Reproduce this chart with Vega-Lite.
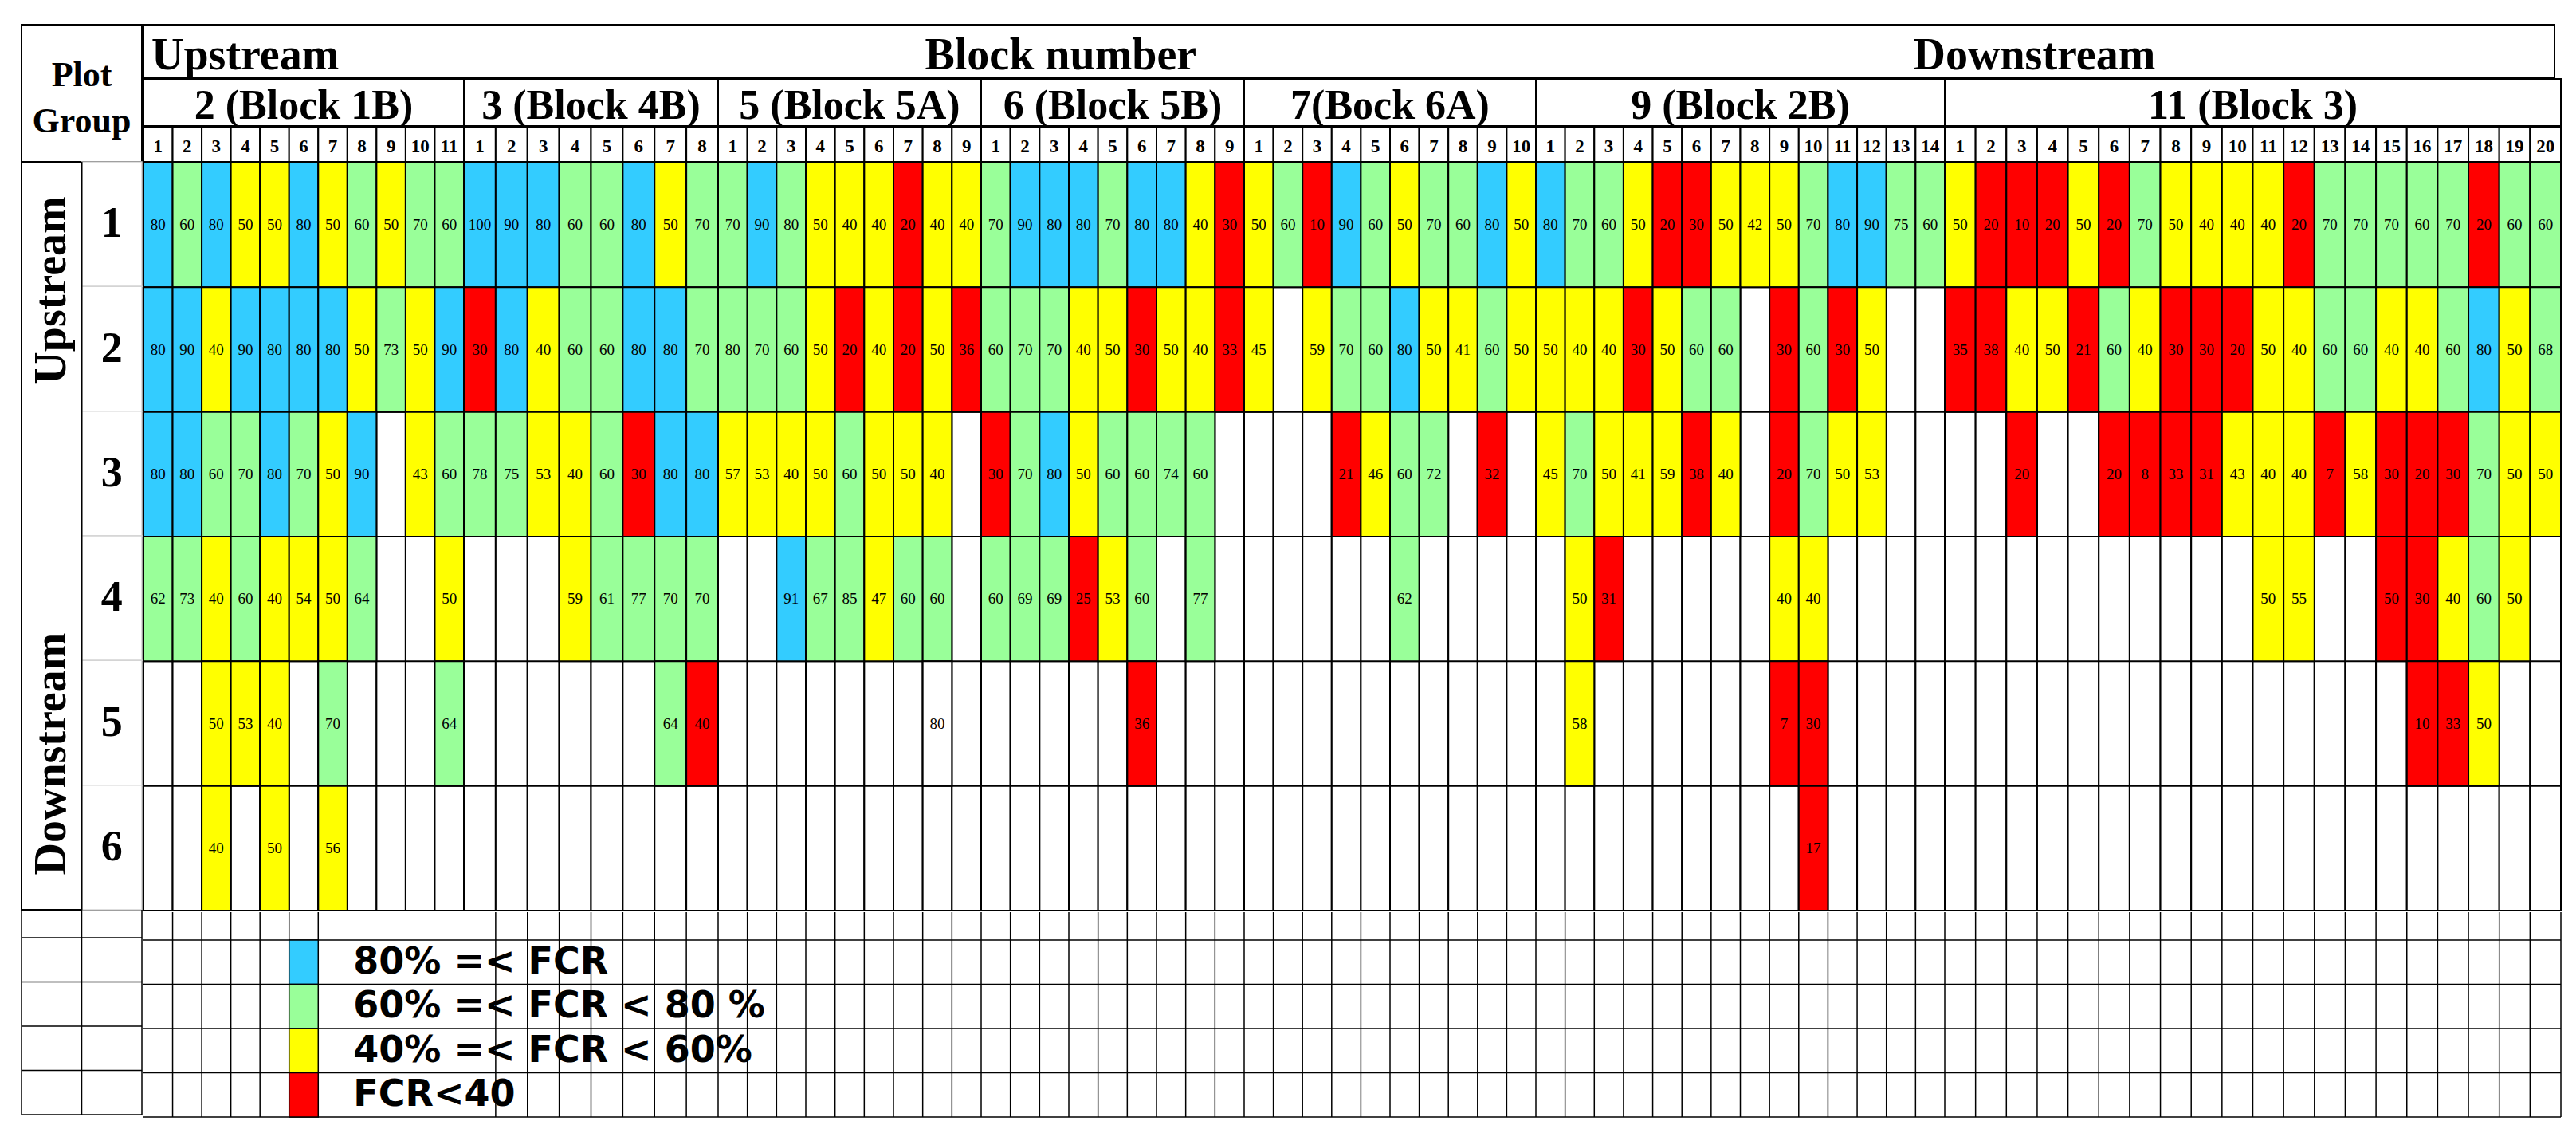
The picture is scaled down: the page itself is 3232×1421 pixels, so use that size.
{
"$schema": "https://vega.github.io/schema/vega-lite/v6.json",
"background": "white",
"padding": {"left": 26, "top": 30, "right": 0, "bottom": 24},
"config": {
  "view": {"stroke": null},
  "axis": {"disable": true},
  "legend": {"disable": true},
  "scale": {"bandPaddingInner": 0, "bandPaddingOuter": 0, "rectBandPaddingInner": 0},
  "concat": {"spacing": 0},
  "style": {
    "blk": {"stroke": "black", "strokeWidth": 2},
    "grid": {"stroke": "#d9d9d9", "strokeWidth": 1.5},
    "val": {"font": "Liberation Serif", "fontSize": 19, "fill": "#1a1a1a"},
    "h1": {"font": "Liberation Serif", "fontSize": 56, "fontWeight": "bold", "fill": "black", "baseline": "alphabetic", "dy": 23},
    "gtitle": {"font": "Liberation Serif", "fontSize": 52, "fontWeight": "bold", "fill": "black", "baseline": "alphabetic", "dy": 20},
    "cnum": {"font": "Liberation Serif", "fontSize": 23, "fontWeight": "bold", "fill": "black", "baseline": "alphabetic", "dy": 9},
    "rownum": {"font": "Liberation Serif", "fontSize": 54, "fontWeight": "bold", "fill": "black"},
    "stream": {"font": "Liberation Serif", "fontSize": 56, "fontWeight": "bold", "fill": "black", "angle": 270},
    "corner": {"font": "Liberation Serif", "fontSize": 44, "fontWeight": "bold", "fill": "black", "baseline": "alphabetic", "lineHeight": 58, "dy": -9},
    "leg": {"font": "DejaVu Sans", "fontSize": 46, "fontWeight": "bold", "fill": "black", "align": "left", "dx": 44}
  }
},
"datasets": {
  "rows": [{"r":1},{"r":2},{"r":3},{"r":4},{"r":5},{"r":6}],
  "legend": [{"k":"c80","label":"80% =< FCR"},{"k":"c60","label":"60% =< FCR < 80 %"},{"k":"c40","label":"40% =< FCR < 60%"},{"k":"c0","label":"FCR<40"}],
  "groups": [
    {"g":2,"name":"2 (Block 1B)","cols":[1,2,3,4,5,6,7,8,9,10,11]},
    {"g":3,"name":"3 (Block 4B)","cols":[1,2,3,4,5,6,7,8]},
    {"g":5,"name":"5 (Block 5A)","cols":[1,2,3,4,5,6,7,8,9]},
    {"g":6,"name":"6 (Block 5B)","cols":[1,2,3,4,5,6,7,8,9]},
    {"g":7,"name":"7(Bock 6A)","cols":[1,2,3,4,5,6,7,8,9,10]},
    {"g":9,"name":"9 (Block 2B)","cols":[1,2,3,4,5,6,7,8,9,10,11,12,13,14]},
    {"g":11,"name":"11 (Block 3)","cols":[1,2,3,4,5,6,7,8,9,10,11,12,13,14,15,16,17,18,19,20]}
  ],
  "cells": [
    {"g":2,"c":1,"r":1,"v":80,"k":"c80"},{"g":2,"c":2,"r":1,"v":60,"k":"c60"},{"g":2,"c":3,"r":1,"v":80,"k":"c80"},{"g":2,"c":4,"r":1,"v":50,"k":"c40"},{"g":2,"c":5,"r":1,"v":50,"k":"c40"},{"g":2,"c":6,"r":1,"v":80,"k":"c80"},{"g":2,"c":7,"r":1,"v":50,"k":"c40"},{"g":2,"c":8,"r":1,"v":60,"k":"c60"},{"g":2,"c":9,"r":1,"v":50,"k":"c40"},{"g":2,"c":10,"r":1,"v":70,"k":"c60"},{"g":2,"c":11,"r":1,"v":60,"k":"c60"},
    {"g":2,"c":1,"r":2,"v":80,"k":"c80"},{"g":2,"c":2,"r":2,"v":90,"k":"c80"},{"g":2,"c":3,"r":2,"v":40,"k":"c40"},{"g":2,"c":4,"r":2,"v":90,"k":"c80"},{"g":2,"c":5,"r":2,"v":80,"k":"c80"},{"g":2,"c":6,"r":2,"v":80,"k":"c80"},{"g":2,"c":7,"r":2,"v":80,"k":"c80"},{"g":2,"c":8,"r":2,"v":50,"k":"c40"},{"g":2,"c":9,"r":2,"v":73,"k":"c60"},{"g":2,"c":10,"r":2,"v":50,"k":"c40"},{"g":2,"c":11,"r":2,"v":90,"k":"c80"},
    {"g":2,"c":1,"r":3,"v":80,"k":"c80"},{"g":2,"c":2,"r":3,"v":80,"k":"c80"},{"g":2,"c":3,"r":3,"v":60,"k":"c60"},{"g":2,"c":4,"r":3,"v":70,"k":"c60"},{"g":2,"c":5,"r":3,"v":80,"k":"c80"},{"g":2,"c":6,"r":3,"v":70,"k":"c60"},{"g":2,"c":7,"r":3,"v":50,"k":"c40"},{"g":2,"c":8,"r":3,"v":90,"k":"c80"},{"g":2,"c":10,"r":3,"v":43,"k":"c40"},{"g":2,"c":11,"r":3,"v":60,"k":"c60"},
    {"g":2,"c":1,"r":4,"v":62,"k":"c60"},{"g":2,"c":2,"r":4,"v":73,"k":"c60"},{"g":2,"c":3,"r":4,"v":40,"k":"c40"},{"g":2,"c":4,"r":4,"v":60,"k":"c60"},{"g":2,"c":5,"r":4,"v":40,"k":"c40"},{"g":2,"c":6,"r":4,"v":54,"k":"c40"},{"g":2,"c":7,"r":4,"v":50,"k":"c40"},{"g":2,"c":8,"r":4,"v":64,"k":"c60"},{"g":2,"c":11,"r":4,"v":50,"k":"c40"},
    {"g":2,"c":3,"r":5,"v":50,"k":"c40"},{"g":2,"c":4,"r":5,"v":53,"k":"c40"},{"g":2,"c":5,"r":5,"v":40,"k":"c40"},{"g":2,"c":7,"r":5,"v":70,"k":"c60"},{"g":2,"c":11,"r":5,"v":64,"k":"c60"},
    {"g":2,"c":3,"r":6,"v":40,"k":"c40"},{"g":2,"c":5,"r":6,"v":50,"k":"c40"},{"g":2,"c":7,"r":6,"v":56,"k":"c40"},
    {"g":3,"c":1,"r":1,"v":100,"k":"c80"},{"g":3,"c":2,"r":1,"v":90,"k":"c80"},{"g":3,"c":3,"r":1,"v":80,"k":"c80"},{"g":3,"c":4,"r":1,"v":60,"k":"c60"},{"g":3,"c":5,"r":1,"v":60,"k":"c60"},{"g":3,"c":6,"r":1,"v":80,"k":"c80"},{"g":3,"c":7,"r":1,"v":50,"k":"c40"},{"g":3,"c":8,"r":1,"v":70,"k":"c60"},
    {"g":3,"c":1,"r":2,"v":30,"k":"c0"},{"g":3,"c":2,"r":2,"v":80,"k":"c80"},{"g":3,"c":3,"r":2,"v":40,"k":"c40"},{"g":3,"c":4,"r":2,"v":60,"k":"c60"},{"g":3,"c":5,"r":2,"v":60,"k":"c60"},{"g":3,"c":6,"r":2,"v":80,"k":"c80"},{"g":3,"c":7,"r":2,"v":80,"k":"c80"},{"g":3,"c":8,"r":2,"v":70,"k":"c60"},
    {"g":3,"c":1,"r":3,"v":78,"k":"c60"},{"g":3,"c":2,"r":3,"v":75,"k":"c60"},{"g":3,"c":3,"r":3,"v":53,"k":"c40"},{"g":3,"c":4,"r":3,"v":40,"k":"c40"},{"g":3,"c":5,"r":3,"v":60,"k":"c60"},{"g":3,"c":6,"r":3,"v":30,"k":"c0"},{"g":3,"c":7,"r":3,"v":80,"k":"c80"},{"g":3,"c":8,"r":3,"v":80,"k":"c80"},
    {"g":3,"c":4,"r":4,"v":59,"k":"c40"},{"g":3,"c":5,"r":4,"v":61,"k":"c60"},{"g":3,"c":6,"r":4,"v":77,"k":"c60"},{"g":3,"c":7,"r":4,"v":70,"k":"c60"},{"g":3,"c":8,"r":4,"v":70,"k":"c60"},
    {"g":3,"c":7,"r":5,"v":64,"k":"c60"},{"g":3,"c":8,"r":5,"v":40,"k":"c0"},
    {"g":5,"c":1,"r":1,"v":70,"k":"c60"},{"g":5,"c":2,"r":1,"v":90,"k":"c80"},{"g":5,"c":3,"r":1,"v":80,"k":"c60"},{"g":5,"c":4,"r":1,"v":50,"k":"c40"},{"g":5,"c":5,"r":1,"v":40,"k":"c40"},{"g":5,"c":6,"r":1,"v":40,"k":"c40"},{"g":5,"c":7,"r":1,"v":20,"k":"c0"},{"g":5,"c":8,"r":1,"v":40,"k":"c40"},{"g":5,"c":9,"r":1,"v":40,"k":"c40"},
    {"g":5,"c":1,"r":2,"v":80,"k":"c60"},{"g":5,"c":2,"r":2,"v":70,"k":"c60"},{"g":5,"c":3,"r":2,"v":60,"k":"c60"},{"g":5,"c":4,"r":2,"v":50,"k":"c40"},{"g":5,"c":5,"r":2,"v":20,"k":"c0"},{"g":5,"c":6,"r":2,"v":40,"k":"c40"},{"g":5,"c":7,"r":2,"v":20,"k":"c0"},{"g":5,"c":8,"r":2,"v":50,"k":"c40"},{"g":5,"c":9,"r":2,"v":36,"k":"c0"},
    {"g":5,"c":1,"r":3,"v":57,"k":"c40"},{"g":5,"c":2,"r":3,"v":53,"k":"c40"},{"g":5,"c":3,"r":3,"v":40,"k":"c40"},{"g":5,"c":4,"r":3,"v":50,"k":"c40"},{"g":5,"c":5,"r":3,"v":60,"k":"c60"},{"g":5,"c":6,"r":3,"v":50,"k":"c40"},{"g":5,"c":7,"r":3,"v":50,"k":"c40"},{"g":5,"c":8,"r":3,"v":40,"k":"c40"},
    {"g":5,"c":3,"r":4,"v":91,"k":"c80"},{"g":5,"c":4,"r":4,"v":67,"k":"c60"},{"g":5,"c":5,"r":4,"v":85,"k":"c60"},{"g":5,"c":6,"r":4,"v":47,"k":"c40"},{"g":5,"c":7,"r":4,"v":60,"k":"c60"},{"g":5,"c":8,"r":4,"v":60,"k":"c60"},
    {"g":5,"c":8,"r":5,"v":80,"k":"na"},
    {"g":6,"c":1,"r":1,"v":70,"k":"c60"},{"g":6,"c":2,"r":1,"v":90,"k":"c80"},{"g":6,"c":3,"r":1,"v":80,"k":"c80"},{"g":6,"c":4,"r":1,"v":80,"k":"c80"},{"g":6,"c":5,"r":1,"v":70,"k":"c60"},{"g":6,"c":6,"r":1,"v":80,"k":"c80"},{"g":6,"c":7,"r":1,"v":80,"k":"c80"},{"g":6,"c":8,"r":1,"v":40,"k":"c40"},{"g":6,"c":9,"r":1,"v":30,"k":"c0"},
    {"g":6,"c":1,"r":2,"v":60,"k":"c60"},{"g":6,"c":2,"r":2,"v":70,"k":"c60"},{"g":6,"c":3,"r":2,"v":70,"k":"c60"},{"g":6,"c":4,"r":2,"v":40,"k":"c40"},{"g":6,"c":5,"r":2,"v":50,"k":"c40"},{"g":6,"c":6,"r":2,"v":30,"k":"c0"},{"g":6,"c":7,"r":2,"v":50,"k":"c40"},{"g":6,"c":8,"r":2,"v":40,"k":"c40"},{"g":6,"c":9,"r":2,"v":33,"k":"c0"},
    {"g":6,"c":1,"r":3,"v":30,"k":"c0"},{"g":6,"c":2,"r":3,"v":70,"k":"c60"},{"g":6,"c":3,"r":3,"v":80,"k":"c80"},{"g":6,"c":4,"r":3,"v":50,"k":"c40"},{"g":6,"c":5,"r":3,"v":60,"k":"c60"},{"g":6,"c":6,"r":3,"v":60,"k":"c60"},{"g":6,"c":7,"r":3,"v":74,"k":"c60"},{"g":6,"c":8,"r":3,"v":60,"k":"c60"},
    {"g":6,"c":1,"r":4,"v":60,"k":"c60"},{"g":6,"c":2,"r":4,"v":69,"k":"c60"},{"g":6,"c":3,"r":4,"v":69,"k":"c60"},{"g":6,"c":4,"r":4,"v":25,"k":"c0"},{"g":6,"c":5,"r":4,"v":53,"k":"c40"},{"g":6,"c":6,"r":4,"v":60,"k":"c60"},{"g":6,"c":8,"r":4,"v":77,"k":"c60"},
    {"g":6,"c":6,"r":5,"v":36,"k":"c0"},
    {"g":7,"c":1,"r":1,"v":50,"k":"c40"},{"g":7,"c":2,"r":1,"v":60,"k":"c60"},{"g":7,"c":3,"r":1,"v":10,"k":"c0"},{"g":7,"c":4,"r":1,"v":90,"k":"c80"},{"g":7,"c":5,"r":1,"v":60,"k":"c60"},{"g":7,"c":6,"r":1,"v":50,"k":"c40"},{"g":7,"c":7,"r":1,"v":70,"k":"c60"},{"g":7,"c":8,"r":1,"v":60,"k":"c60"},{"g":7,"c":9,"r":1,"v":80,"k":"c80"},{"g":7,"c":10,"r":1,"v":50,"k":"c40"},
    {"g":7,"c":1,"r":2,"v":45,"k":"c40"},{"g":7,"c":3,"r":2,"v":59,"k":"c40"},{"g":7,"c":4,"r":2,"v":70,"k":"c60"},{"g":7,"c":5,"r":2,"v":60,"k":"c60"},{"g":7,"c":6,"r":2,"v":80,"k":"c80"},{"g":7,"c":7,"r":2,"v":50,"k":"c40"},{"g":7,"c":8,"r":2,"v":41,"k":"c40"},{"g":7,"c":9,"r":2,"v":60,"k":"c60"},{"g":7,"c":10,"r":2,"v":50,"k":"c40"},
    {"g":7,"c":4,"r":3,"v":21,"k":"c0"},{"g":7,"c":5,"r":3,"v":46,"k":"c40"},{"g":7,"c":6,"r":3,"v":60,"k":"c60"},{"g":7,"c":7,"r":3,"v":72,"k":"c60"},{"g":7,"c":9,"r":3,"v":32,"k":"c0"},
    {"g":7,"c":6,"r":4,"v":62,"k":"c60"},
    {"g":9,"c":1,"r":1,"v":80,"k":"c80"},{"g":9,"c":2,"r":1,"v":70,"k":"c60"},{"g":9,"c":3,"r":1,"v":60,"k":"c60"},{"g":9,"c":4,"r":1,"v":50,"k":"c40"},{"g":9,"c":5,"r":1,"v":20,"k":"c0"},{"g":9,"c":6,"r":1,"v":30,"k":"c0"},{"g":9,"c":7,"r":1,"v":50,"k":"c40"},{"g":9,"c":8,"r":1,"v":42,"k":"c40"},{"g":9,"c":9,"r":1,"v":50,"k":"c40"},{"g":9,"c":10,"r":1,"v":70,"k":"c60"},{"g":9,"c":11,"r":1,"v":80,"k":"c80"},{"g":9,"c":12,"r":1,"v":90,"k":"c80"},{"g":9,"c":13,"r":1,"v":75,"k":"c60"},{"g":9,"c":14,"r":1,"v":60,"k":"c60"},
    {"g":9,"c":1,"r":2,"v":50,"k":"c40"},{"g":9,"c":2,"r":2,"v":40,"k":"c40"},{"g":9,"c":3,"r":2,"v":40,"k":"c40"},{"g":9,"c":4,"r":2,"v":30,"k":"c0"},{"g":9,"c":5,"r":2,"v":50,"k":"c40"},{"g":9,"c":6,"r":2,"v":60,"k":"c60"},{"g":9,"c":7,"r":2,"v":60,"k":"c60"},{"g":9,"c":9,"r":2,"v":30,"k":"c0"},{"g":9,"c":10,"r":2,"v":60,"k":"c60"},{"g":9,"c":11,"r":2,"v":30,"k":"c0"},{"g":9,"c":12,"r":2,"v":50,"k":"c40"},
    {"g":9,"c":1,"r":3,"v":45,"k":"c40"},{"g":9,"c":2,"r":3,"v":70,"k":"c60"},{"g":9,"c":3,"r":3,"v":50,"k":"c40"},{"g":9,"c":4,"r":3,"v":41,"k":"c40"},{"g":9,"c":5,"r":3,"v":59,"k":"c40"},{"g":9,"c":6,"r":3,"v":38,"k":"c0"},{"g":9,"c":7,"r":3,"v":40,"k":"c40"},{"g":9,"c":9,"r":3,"v":20,"k":"c0"},{"g":9,"c":10,"r":3,"v":70,"k":"c60"},{"g":9,"c":11,"r":3,"v":50,"k":"c40"},{"g":9,"c":12,"r":3,"v":53,"k":"c40"},
    {"g":9,"c":2,"r":4,"v":50,"k":"c40"},{"g":9,"c":3,"r":4,"v":31,"k":"c0"},{"g":9,"c":9,"r":4,"v":40,"k":"c40"},{"g":9,"c":10,"r":4,"v":40,"k":"c40"},
    {"g":9,"c":2,"r":5,"v":58,"k":"c40"},{"g":9,"c":9,"r":5,"v":7,"k":"c0"},{"g":9,"c":10,"r":5,"v":30,"k":"c0"},
    {"g":9,"c":10,"r":6,"v":17,"k":"c0"},
    {"g":11,"c":1,"r":1,"v":50,"k":"c40"},{"g":11,"c":2,"r":1,"v":20,"k":"c0"},{"g":11,"c":3,"r":1,"v":10,"k":"c0"},{"g":11,"c":4,"r":1,"v":20,"k":"c0"},{"g":11,"c":5,"r":1,"v":50,"k":"c40"},{"g":11,"c":6,"r":1,"v":20,"k":"c0"},{"g":11,"c":7,"r":1,"v":70,"k":"c60"},{"g":11,"c":8,"r":1,"v":50,"k":"c40"},{"g":11,"c":9,"r":1,"v":40,"k":"c40"},{"g":11,"c":10,"r":1,"v":40,"k":"c40"},{"g":11,"c":11,"r":1,"v":40,"k":"c40"},{"g":11,"c":12,"r":1,"v":20,"k":"c0"},{"g":11,"c":13,"r":1,"v":70,"k":"c60"},{"g":11,"c":14,"r":1,"v":70,"k":"c60"},{"g":11,"c":15,"r":1,"v":70,"k":"c60"},{"g":11,"c":16,"r":1,"v":60,"k":"c60"},{"g":11,"c":17,"r":1,"v":70,"k":"c60"},{"g":11,"c":18,"r":1,"v":20,"k":"c0"},{"g":11,"c":19,"r":1,"v":60,"k":"c60"},{"g":11,"c":20,"r":1,"v":60,"k":"c60"},
    {"g":11,"c":1,"r":2,"v":35,"k":"c0"},{"g":11,"c":2,"r":2,"v":38,"k":"c0"},{"g":11,"c":3,"r":2,"v":40,"k":"c40"},{"g":11,"c":4,"r":2,"v":50,"k":"c40"},{"g":11,"c":5,"r":2,"v":21,"k":"c0"},{"g":11,"c":6,"r":2,"v":60,"k":"c60"},{"g":11,"c":7,"r":2,"v":40,"k":"c40"},{"g":11,"c":8,"r":2,"v":30,"k":"c0"},{"g":11,"c":9,"r":2,"v":30,"k":"c0"},{"g":11,"c":10,"r":2,"v":20,"k":"c0"},{"g":11,"c":11,"r":2,"v":50,"k":"c40"},{"g":11,"c":12,"r":2,"v":40,"k":"c40"},{"g":11,"c":13,"r":2,"v":60,"k":"c60"},{"g":11,"c":14,"r":2,"v":60,"k":"c60"},{"g":11,"c":15,"r":2,"v":40,"k":"c40"},{"g":11,"c":16,"r":2,"v":40,"k":"c40"},{"g":11,"c":17,"r":2,"v":60,"k":"c60"},{"g":11,"c":18,"r":2,"v":80,"k":"c80"},{"g":11,"c":19,"r":2,"v":50,"k":"c40"},{"g":11,"c":20,"r":2,"v":68,"k":"c60"},
    {"g":11,"c":3,"r":3,"v":20,"k":"c0"},{"g":11,"c":6,"r":3,"v":20,"k":"c0"},{"g":11,"c":7,"r":3,"v":8,"k":"c0"},{"g":11,"c":8,"r":3,"v":33,"k":"c0"},{"g":11,"c":9,"r":3,"v":31,"k":"c0"},{"g":11,"c":10,"r":3,"v":43,"k":"c40"},{"g":11,"c":11,"r":3,"v":40,"k":"c40"},{"g":11,"c":12,"r":3,"v":40,"k":"c40"},{"g":11,"c":13,"r":3,"v":7,"k":"c0"},{"g":11,"c":14,"r":3,"v":58,"k":"c40"},{"g":11,"c":15,"r":3,"v":30,"k":"c0"},{"g":11,"c":16,"r":3,"v":20,"k":"c0"},{"g":11,"c":17,"r":3,"v":30,"k":"c0"},{"g":11,"c":18,"r":3,"v":70,"k":"c60"},{"g":11,"c":19,"r":3,"v":50,"k":"c40"},{"g":11,"c":20,"r":3,"v":50,"k":"c40"},
    {"g":11,"c":11,"r":4,"v":50,"k":"c40"},{"g":11,"c":12,"r":4,"v":55,"k":"c40"},{"g":11,"c":15,"r":4,"v":50,"k":"c0"},{"g":11,"c":16,"r":4,"v":30,"k":"c0"},{"g":11,"c":17,"r":4,"v":40,"k":"c40"},{"g":11,"c":18,"r":4,"v":60,"k":"c60"},{"g":11,"c":19,"r":4,"v":50,"k":"c40"},
    {"g":11,"c":16,"r":5,"v":10,"k":"c0"},{"g":11,"c":17,"r":5,"v":33,"k":"c0"},{"g":11,"c":18,"r":5,"v":50,"k":"c40"}
  ]
},
"spacing": -2,
"hconcat": [
  {"spacing": 0, "bounds": "flush", "vconcat": [
    {"width": 151, "height": 172, "view": {"stroke": "black", "strokeWidth": 2}, "data": {"values": [{}]}, "mark": {"type": "text", "style": "corner", "text": ["Plot", "Group"]}, "encoding": {}},
    {"width": 151, "height": 938, "view": {"stroke": "black", "strokeWidth": 2}, "layer": [
      {"data": {"name": "rows"}, "mark": {"type": "rect", "fill": "white", "stroke": "#d4d4d4", "strokeWidth": 1.5}, "encoding": {"x": {"datum": "B", "type": "nominal", "scale": {"type": "band", "domain": ["A", "B"]}}, "y": {"field": "r", "type": "ordinal", "scale": {"type": "band", "domain": [1,2,3,4,5,6]}}}},
      {"data": {"values": [{}]}, "mark": {"type": "rule", "style": "blk"}, "encoding": {"x": {"datum": "B", "type": "nominal", "bandPosition": 0}}},
      {"data": {"name": "rows"}, "mark": {"type": "text", "style": "rownum"}, "encoding": {"x": {"datum": "B", "type": "nominal"}, "y": {"field": "r", "type": "ordinal"}, "text": {"field": "r"}}},
      {"data": {"values": [{}]}, "mark": {"type": "text", "style": "stream", "text": "Upstream"}, "encoding": {"x": {"datum": "A", "type": "nominal"}, "y": {"datum": 2, "type": "ordinal", "bandPosition": 0.03}}},
      {"data": {"values": [{}]}, "mark": {"type": "text", "style": "stream", "text": "Downstream"}, "encoding": {"x": {"datum": "A", "type": "nominal"}, "y": {"datum": 5, "type": "ordinal", "bandPosition": 0.75}}}
    ]},
    {"width": 151, "height": 257, "layer": [
      {"data": {"values": [{"col": "A"}, {"col": "B"}]}, "mark": {"type": "rule", "style": "grid"}, "encoding": {"x": {"field": "col", "type": "nominal", "bandPosition": 1, "scale": {"type": "band", "domain": ["A", "B"]}}}},
      {"data": {"values": [{}]}, "mark": {"type": "rule", "style": "grid"}, "encoding": {"x": {"datum": "A", "type": "nominal", "bandPosition": 0}}},
      {"data": {"name": "legend"}, "mark": {"type": "rule", "style": "grid"}, "encoding": {"y": {"field": "k", "type": "ordinal", "bandPosition": 0, "scale": {"type": "band", "domain": ["c80","c60","c40","c0"], "paddingInner": 0, "paddingOuter": 0.3153, "align": 1}}}},
      {"data": {"name": "legend"}, "transform": [{"filter": "datum.k == 'c0'"}], "mark": {"type": "rule", "style": "grid"}, "encoding": {"y": {"field": "k", "type": "ordinal", "bandPosition": 1}}}
    ]}
  ]},
  {"spacing": -2, "vconcat": [
    {"width": 3025, "height": 66, "view": {"stroke": "black", "strokeWidth": 2}, "data": {"values": [{}]}, "layer": [
      {"mark": {"type": "text", "style": "h1", "text": "Upstream", "align": "left", "dx": 10}, "encoding": {"x": {"datum": 2, "type": "ordinal", "bandPosition": 0, "scale": {"type": "band", "domain": [2,3,5,6,7,9,11]}}}},
      {"mark": {"type": "text", "style": "h1", "text": "Block number"}, "encoding": {"x": {"datum": 5, "type": "ordinal", "bandPosition": 0.663}}},
      {"mark": {"type": "text", "style": "h1", "text": "Downstream"}, "encoding": {"x": {"datum": 9, "type": "ordinal", "bandPosition": 0.49}}}
    ]},
    {"spacing": 0, "bounds": "flush", "hconcat": [
      {"width": 402, "height": 59, "view": {"stroke": "black", "strokeWidth": 2}, "data": {"name": "groups"}, "transform": [{"filter": "datum.g == 2"}], "mark": {"type": "text", "style": "gtitle"}, "encoding": {"text": {"field": "name"}}},
      {"width": 319, "height": 59, "view": {"stroke": "black", "strokeWidth": 2}, "data": {"name": "groups"}, "transform": [{"filter": "datum.g == 3"}], "mark": {"type": "text", "style": "gtitle"}, "encoding": {"text": {"field": "name"}}},
      {"width": 330, "height": 59, "view": {"stroke": "black", "strokeWidth": 2}, "data": {"name": "groups"}, "transform": [{"filter": "datum.g == 5"}], "mark": {"type": "text", "style": "gtitle"}, "encoding": {"text": {"field": "name"}}},
      {"width": 330, "height": 59, "view": {"stroke": "black", "strokeWidth": 2}, "data": {"name": "groups"}, "transform": [{"filter": "datum.g == 6"}], "mark": {"type": "text", "style": "gtitle"}, "encoding": {"text": {"field": "name"}}},
      {"width": 366, "height": 59, "view": {"stroke": "black", "strokeWidth": 2}, "data": {"name": "groups"}, "transform": [{"filter": "datum.g == 7"}], "mark": {"type": "text", "style": "gtitle"}, "encoding": {"text": {"field": "name"}}},
      {"width": 513, "height": 59, "view": {"stroke": "black", "strokeWidth": 2}, "data": {"name": "groups"}, "transform": [{"filter": "datum.g == 9"}], "mark": {"type": "text", "style": "gtitle"}, "encoding": {"text": {"field": "name"}}},
      {"width": 773, "height": 59, "view": {"stroke": "black", "strokeWidth": 2}, "data": {"name": "groups"}, "transform": [{"filter": "datum.g == 11"}], "mark": {"type": "text", "style": "gtitle"}, "encoding": {"text": {"field": "name"}}}
    ]},
    {"spacing": 0, "bounds": "flush", "hconcat": [
      {"width": 402, "height": 43, "data": {"name": "groups"}, "transform": [{"filter": "datum.g == 2"}, {"flatten": ["cols"], "as": ["c"]}], "encoding": {"x": {"field": "c", "type": "ordinal", "scale": {"type": "band"}}}, "layer": [{"mark": {"type": "rect", "fill": "white", "stroke": "black", "strokeWidth": 2}}, {"mark": {"type": "text", "style": "cnum"}, "encoding": {"text": {"field": "c"}}}]},
      {"width": 319, "height": 43, "data": {"name": "groups"}, "transform": [{"filter": "datum.g == 3"}, {"flatten": ["cols"], "as": ["c"]}], "encoding": {"x": {"field": "c", "type": "ordinal", "scale": {"type": "band"}}}, "layer": [{"mark": {"type": "rect", "fill": "white", "stroke": "black", "strokeWidth": 2}}, {"mark": {"type": "text", "style": "cnum"}, "encoding": {"text": {"field": "c"}}}]},
      {"width": 330, "height": 43, "data": {"name": "groups"}, "transform": [{"filter": "datum.g == 5"}, {"flatten": ["cols"], "as": ["c"]}], "encoding": {"x": {"field": "c", "type": "ordinal", "scale": {"type": "band"}}}, "layer": [{"mark": {"type": "rect", "fill": "white", "stroke": "black", "strokeWidth": 2}}, {"mark": {"type": "text", "style": "cnum"}, "encoding": {"text": {"field": "c"}}}]},
      {"width": 330, "height": 43, "data": {"name": "groups"}, "transform": [{"filter": "datum.g == 6"}, {"flatten": ["cols"], "as": ["c"]}], "encoding": {"x": {"field": "c", "type": "ordinal", "scale": {"type": "band"}}}, "layer": [{"mark": {"type": "rect", "fill": "white", "stroke": "black", "strokeWidth": 2}}, {"mark": {"type": "text", "style": "cnum"}, "encoding": {"text": {"field": "c"}}}]},
      {"width": 366, "height": 43, "data": {"name": "groups"}, "transform": [{"filter": "datum.g == 7"}, {"flatten": ["cols"], "as": ["c"]}], "encoding": {"x": {"field": "c", "type": "ordinal", "scale": {"type": "band"}}}, "layer": [{"mark": {"type": "rect", "fill": "white", "stroke": "black", "strokeWidth": 2}}, {"mark": {"type": "text", "style": "cnum"}, "encoding": {"text": {"field": "c"}}}]},
      {"width": 513, "height": 43, "data": {"name": "groups"}, "transform": [{"filter": "datum.g == 9"}, {"flatten": ["cols"], "as": ["c"]}], "encoding": {"x": {"field": "c", "type": "ordinal", "scale": {"type": "band"}}}, "layer": [{"mark": {"type": "rect", "fill": "white", "stroke": "black", "strokeWidth": 2}}, {"mark": {"type": "text", "style": "cnum"}, "encoding": {"text": {"field": "c"}}}]},
      {"width": 773, "height": 43, "data": {"name": "groups"}, "transform": [{"filter": "datum.g == 11"}, {"flatten": ["cols"], "as": ["c"]}], "encoding": {"x": {"field": "c", "type": "ordinal", "scale": {"type": "band"}}}, "layer": [{"mark": {"type": "rect", "fill": "white", "stroke": "black", "strokeWidth": 2}}, {"mark": {"type": "text", "style": "cnum"}, "encoding": {"text": {"field": "c"}}}]}
    ]},
    {"spacing": 0, "bounds": "flush", "hconcat": [
      {"width": 402, "height": 938, "layer": [
        {"data": {"name": "groups"}, "transform": [{"filter": "datum.g == 2"}, {"flatten": ["cols"], "as": ["c"]}], "mark": {"type": "rect", "fill": "white", "stroke": "black", "strokeWidth": 2}, "encoding": {"x": {"field": "c", "type": "ordinal", "scale": {"type": "band"}}}},
        {"data": {"name": "rows"}, "mark": {"type": "rule", "style": "blk"}, "encoding": {"y": {"field": "r", "type": "ordinal", "bandPosition": 0, "scale": {"type": "band", "domain": [1,2,3,4,5,6]}}}},
        {"data": {"name": "cells"}, "transform": [{"filter": "datum.g == 2"}], "mark": {"type": "rect", "stroke": "black", "strokeWidth": 2}, "encoding": {"x": {"field": "c", "type": "ordinal"}, "y": {"field": "r", "type": "ordinal"}, "fill": {"field": "k", "type": "nominal", "scale": {"domain": ["c80","c60","c40","c0","na"], "range": ["#33CCFF","#99FF99","#FFFF00","#FF0000","#FFFFFF"]}}}},
        {"data": {"name": "cells"}, "transform": [{"filter": "datum.g == 2"}], "mark": {"type": "text", "style": "val"}, "encoding": {"x": {"field": "c", "type": "ordinal"}, "y": {"field": "r", "type": "ordinal"}, "text": {"field": "v"}}}
      ]},
      {"width": 319, "height": 938, "layer": [
        {"data": {"name": "groups"}, "transform": [{"filter": "datum.g == 3"}, {"flatten": ["cols"], "as": ["c"]}], "mark": {"type": "rect", "fill": "white", "stroke": "black", "strokeWidth": 2}, "encoding": {"x": {"field": "c", "type": "ordinal", "scale": {"type": "band"}}}},
        {"data": {"name": "rows"}, "mark": {"type": "rule", "style": "blk"}, "encoding": {"y": {"field": "r", "type": "ordinal", "bandPosition": 0, "scale": {"type": "band", "domain": [1,2,3,4,5,6]}}}},
        {"data": {"name": "cells"}, "transform": [{"filter": "datum.g == 3"}], "mark": {"type": "rect", "stroke": "black", "strokeWidth": 2}, "encoding": {"x": {"field": "c", "type": "ordinal"}, "y": {"field": "r", "type": "ordinal"}, "fill": {"field": "k", "type": "nominal", "scale": {"domain": ["c80","c60","c40","c0","na"], "range": ["#33CCFF","#99FF99","#FFFF00","#FF0000","#FFFFFF"]}}}},
        {"data": {"name": "cells"}, "transform": [{"filter": "datum.g == 3"}], "mark": {"type": "text", "style": "val"}, "encoding": {"x": {"field": "c", "type": "ordinal"}, "y": {"field": "r", "type": "ordinal"}, "text": {"field": "v"}}}
      ]},
      {"width": 330, "height": 938, "layer": [
        {"data": {"name": "groups"}, "transform": [{"filter": "datum.g == 5"}, {"flatten": ["cols"], "as": ["c"]}], "mark": {"type": "rect", "fill": "white", "stroke": "black", "strokeWidth": 2}, "encoding": {"x": {"field": "c", "type": "ordinal", "scale": {"type": "band"}}}},
        {"data": {"name": "rows"}, "mark": {"type": "rule", "style": "blk"}, "encoding": {"y": {"field": "r", "type": "ordinal", "bandPosition": 0, "scale": {"type": "band", "domain": [1,2,3,4,5,6]}}}},
        {"data": {"name": "cells"}, "transform": [{"filter": "datum.g == 5"}], "mark": {"type": "rect", "stroke": "black", "strokeWidth": 2}, "encoding": {"x": {"field": "c", "type": "ordinal"}, "y": {"field": "r", "type": "ordinal"}, "fill": {"field": "k", "type": "nominal", "scale": {"domain": ["c80","c60","c40","c0","na"], "range": ["#33CCFF","#99FF99","#FFFF00","#FF0000","#FFFFFF"]}}}},
        {"data": {"name": "cells"}, "transform": [{"filter": "datum.g == 5"}], "mark": {"type": "text", "style": "val"}, "encoding": {"x": {"field": "c", "type": "ordinal"}, "y": {"field": "r", "type": "ordinal"}, "text": {"field": "v"}}}
      ]},
      {"width": 330, "height": 938, "layer": [
        {"data": {"name": "groups"}, "transform": [{"filter": "datum.g == 6"}, {"flatten": ["cols"], "as": ["c"]}], "mark": {"type": "rect", "fill": "white", "stroke": "black", "strokeWidth": 2}, "encoding": {"x": {"field": "c", "type": "ordinal", "scale": {"type": "band"}}}},
        {"data": {"name": "rows"}, "mark": {"type": "rule", "style": "blk"}, "encoding": {"y": {"field": "r", "type": "ordinal", "bandPosition": 0, "scale": {"type": "band", "domain": [1,2,3,4,5,6]}}}},
        {"data": {"name": "cells"}, "transform": [{"filter": "datum.g == 6"}], "mark": {"type": "rect", "stroke": "black", "strokeWidth": 2}, "encoding": {"x": {"field": "c", "type": "ordinal"}, "y": {"field": "r", "type": "ordinal"}, "fill": {"field": "k", "type": "nominal", "scale": {"domain": ["c80","c60","c40","c0","na"], "range": ["#33CCFF","#99FF99","#FFFF00","#FF0000","#FFFFFF"]}}}},
        {"data": {"name": "cells"}, "transform": [{"filter": "datum.g == 6"}], "mark": {"type": "text", "style": "val"}, "encoding": {"x": {"field": "c", "type": "ordinal"}, "y": {"field": "r", "type": "ordinal"}, "text": {"field": "v"}}}
      ]},
      {"width": 366, "height": 938, "layer": [
        {"data": {"name": "groups"}, "transform": [{"filter": "datum.g == 7"}, {"flatten": ["cols"], "as": ["c"]}], "mark": {"type": "rect", "fill": "white", "stroke": "black", "strokeWidth": 2}, "encoding": {"x": {"field": "c", "type": "ordinal", "scale": {"type": "band"}}}},
        {"data": {"name": "rows"}, "mark": {"type": "rule", "style": "blk"}, "encoding": {"y": {"field": "r", "type": "ordinal", "bandPosition": 0, "scale": {"type": "band", "domain": [1,2,3,4,5,6]}}}},
        {"data": {"name": "cells"}, "transform": [{"filter": "datum.g == 7"}], "mark": {"type": "rect", "stroke": "black", "strokeWidth": 2}, "encoding": {"x": {"field": "c", "type": "ordinal"}, "y": {"field": "r", "type": "ordinal"}, "fill": {"field": "k", "type": "nominal", "scale": {"domain": ["c80","c60","c40","c0","na"], "range": ["#33CCFF","#99FF99","#FFFF00","#FF0000","#FFFFFF"]}}}},
        {"data": {"name": "cells"}, "transform": [{"filter": "datum.g == 7"}], "mark": {"type": "text", "style": "val"}, "encoding": {"x": {"field": "c", "type": "ordinal"}, "y": {"field": "r", "type": "ordinal"}, "text": {"field": "v"}}}
      ]},
      {"width": 513, "height": 938, "layer": [
        {"data": {"name": "groups"}, "transform": [{"filter": "datum.g == 9"}, {"flatten": ["cols"], "as": ["c"]}], "mark": {"type": "rect", "fill": "white", "stroke": "black", "strokeWidth": 2}, "encoding": {"x": {"field": "c", "type": "ordinal", "scale": {"type": "band"}}}},
        {"data": {"name": "rows"}, "mark": {"type": "rule", "style": "blk"}, "encoding": {"y": {"field": "r", "type": "ordinal", "bandPosition": 0, "scale": {"type": "band", "domain": [1,2,3,4,5,6]}}}},
        {"data": {"name": "cells"}, "transform": [{"filter": "datum.g == 9"}], "mark": {"type": "rect", "stroke": "black", "strokeWidth": 2}, "encoding": {"x": {"field": "c", "type": "ordinal"}, "y": {"field": "r", "type": "ordinal"}, "fill": {"field": "k", "type": "nominal", "scale": {"domain": ["c80","c60","c40","c0","na"], "range": ["#33CCFF","#99FF99","#FFFF00","#FF0000","#FFFFFF"]}}}},
        {"data": {"name": "cells"}, "transform": [{"filter": "datum.g == 9"}], "mark": {"type": "text", "style": "val"}, "encoding": {"x": {"field": "c", "type": "ordinal"}, "y": {"field": "r", "type": "ordinal"}, "text": {"field": "v"}}}
      ]},
      {"width": 773, "height": 938, "layer": [
        {"data": {"name": "groups"}, "transform": [{"filter": "datum.g == 11"}, {"flatten": ["cols"], "as": ["c"]}], "mark": {"type": "rect", "fill": "white", "stroke": "black", "strokeWidth": 2}, "encoding": {"x": {"field": "c", "type": "ordinal", "scale": {"type": "band"}}}},
        {"data": {"name": "rows"}, "mark": {"type": "rule", "style": "blk"}, "encoding": {"y": {"field": "r", "type": "ordinal", "bandPosition": 0, "scale": {"type": "band", "domain": [1,2,3,4,5,6]}}}},
        {"data": {"name": "cells"}, "transform": [{"filter": "datum.g == 11"}], "mark": {"type": "rect", "stroke": "black", "strokeWidth": 2}, "encoding": {"x": {"field": "c", "type": "ordinal"}, "y": {"field": "r", "type": "ordinal"}, "fill": {"field": "k", "type": "nominal", "scale": {"domain": ["c80","c60","c40","c0","na"], "range": ["#33CCFF","#99FF99","#FFFF00","#FF0000","#FFFFFF"]}}}},
        {"data": {"name": "cells"}, "transform": [{"filter": "datum.g == 11"}], "mark": {"type": "text", "style": "val"}, "encoding": {"x": {"field": "c", "type": "ordinal"}, "y": {"field": "r", "type": "ordinal"}, "text": {"field": "v"}}}
      ]}
    ]},
    {"spacing": 0, "bounds": "flush", "hconcat": [
      {"width": 402, "height": 257, "layer": [
        {"data": {"name": "groups"}, "transform": [{"filter": "datum.g == 2"}, {"flatten": ["cols"], "as": ["c"]}], "mark": {"type": "rule", "style": "grid"}, "encoding": {"x": {"field": "c", "type": "ordinal", "bandPosition": 1, "scale": {"type": "band"}}, "strokeOpacity": {"condition": {"test": "datum.c > 6", "value": 0}, "value": 1}}},
        {"data": {"name": "legend"}, "mark": {"type": "rule", "style": "grid"}, "encoding": {"y": {"field": "k", "type": "ordinal", "bandPosition": 0, "scale": {"type": "band", "domain": ["c80","c60","c40","c0"], "paddingInner": 0, "paddingOuter": 0.3153, "align": 1}}}},
        {"data": {"name": "legend"}, "transform": [{"filter": "datum.k == 'c0'"}], "mark": {"type": "rule", "style": "grid"}, "encoding": {"y": {"field": "k", "type": "ordinal", "bandPosition": 1}}},
        {"data": {"name": "legend"}, "mark": {"type": "rect", "stroke": "black", "strokeWidth": 1.5}, "encoding": {"x": {"datum": 6, "type": "ordinal"}, "y": {"field": "k", "type": "ordinal"}, "fill": {"field": "k", "type": "nominal", "scale": {"domain": ["c80","c60","c40","c0","na"], "range": ["#33CCFF","#99FF99","#FFFF00","#FF0000","#FFFFFF"]}}}},
        {"data": {"name": "legend"}, "mark": {"type": "text", "style": "leg"}, "encoding": {"x": {"datum": 7, "type": "ordinal", "bandPosition": 0}, "y": {"field": "k", "type": "ordinal"}, "text": {"field": "label"}}}
      ]},
      {"width": 319, "height": 257, "layer": [
        {"data": {"name": "groups"}, "transform": [{"filter": "datum.g == 3"}, {"flatten": ["cols"], "as": ["c"]}], "mark": {"type": "rule", "style": "grid"}, "encoding": {"x": {"field": "c", "type": "ordinal", "bandPosition": 1, "scale": {"type": "band"}}}},
        {"data": {"name": "legend"}, "mark": {"type": "rule", "style": "grid"}, "encoding": {"y": {"field": "k", "type": "ordinal", "bandPosition": 0, "scale": {"type": "band", "domain": ["c80","c60","c40","c0"], "paddingInner": 0, "paddingOuter": 0.3153, "align": 1}}}},
        {"data": {"name": "legend"}, "transform": [{"filter": "datum.k == 'c0'"}], "mark": {"type": "rule", "style": "grid"}, "encoding": {"y": {"field": "k", "type": "ordinal", "bandPosition": 1}}}
      ]},
      {"width": 330, "height": 257, "layer": [
        {"data": {"name": "groups"}, "transform": [{"filter": "datum.g == 5"}, {"flatten": ["cols"], "as": ["c"]}], "mark": {"type": "rule", "style": "grid"}, "encoding": {"x": {"field": "c", "type": "ordinal", "bandPosition": 1, "scale": {"type": "band"}}}},
        {"data": {"name": "legend"}, "mark": {"type": "rule", "style": "grid"}, "encoding": {"y": {"field": "k", "type": "ordinal", "bandPosition": 0, "scale": {"type": "band", "domain": ["c80","c60","c40","c0"], "paddingInner": 0, "paddingOuter": 0.3153, "align": 1}}}},
        {"data": {"name": "legend"}, "transform": [{"filter": "datum.k == 'c0'"}], "mark": {"type": "rule", "style": "grid"}, "encoding": {"y": {"field": "k", "type": "ordinal", "bandPosition": 1}}}
      ]},
      {"width": 330, "height": 257, "layer": [
        {"data": {"name": "groups"}, "transform": [{"filter": "datum.g == 6"}, {"flatten": ["cols"], "as": ["c"]}], "mark": {"type": "rule", "style": "grid"}, "encoding": {"x": {"field": "c", "type": "ordinal", "bandPosition": 1, "scale": {"type": "band"}}}},
        {"data": {"name": "legend"}, "mark": {"type": "rule", "style": "grid"}, "encoding": {"y": {"field": "k", "type": "ordinal", "bandPosition": 0, "scale": {"type": "band", "domain": ["c80","c60","c40","c0"], "paddingInner": 0, "paddingOuter": 0.3153, "align": 1}}}},
        {"data": {"name": "legend"}, "transform": [{"filter": "datum.k == 'c0'"}], "mark": {"type": "rule", "style": "grid"}, "encoding": {"y": {"field": "k", "type": "ordinal", "bandPosition": 1}}}
      ]},
      {"width": 366, "height": 257, "layer": [
        {"data": {"name": "groups"}, "transform": [{"filter": "datum.g == 7"}, {"flatten": ["cols"], "as": ["c"]}], "mark": {"type": "rule", "style": "grid"}, "encoding": {"x": {"field": "c", "type": "ordinal", "bandPosition": 1, "scale": {"type": "band"}}}},
        {"data": {"name": "legend"}, "mark": {"type": "rule", "style": "grid"}, "encoding": {"y": {"field": "k", "type": "ordinal", "bandPosition": 0, "scale": {"type": "band", "domain": ["c80","c60","c40","c0"], "paddingInner": 0, "paddingOuter": 0.3153, "align": 1}}}},
        {"data": {"name": "legend"}, "transform": [{"filter": "datum.k == 'c0'"}], "mark": {"type": "rule", "style": "grid"}, "encoding": {"y": {"field": "k", "type": "ordinal", "bandPosition": 1}}}
      ]},
      {"width": 513, "height": 257, "layer": [
        {"data": {"name": "groups"}, "transform": [{"filter": "datum.g == 9"}, {"flatten": ["cols"], "as": ["c"]}], "mark": {"type": "rule", "style": "grid"}, "encoding": {"x": {"field": "c", "type": "ordinal", "bandPosition": 1, "scale": {"type": "band"}}}},
        {"data": {"name": "legend"}, "mark": {"type": "rule", "style": "grid"}, "encoding": {"y": {"field": "k", "type": "ordinal", "bandPosition": 0, "scale": {"type": "band", "domain": ["c80","c60","c40","c0"], "paddingInner": 0, "paddingOuter": 0.3153, "align": 1}}}},
        {"data": {"name": "legend"}, "transform": [{"filter": "datum.k == 'c0'"}], "mark": {"type": "rule", "style": "grid"}, "encoding": {"y": {"field": "k", "type": "ordinal", "bandPosition": 1}}}
      ]},
      {"width": 773, "height": 257, "layer": [
        {"data": {"name": "groups"}, "transform": [{"filter": "datum.g == 11"}, {"flatten": ["cols"], "as": ["c"]}], "mark": {"type": "rule", "style": "grid"}, "encoding": {"x": {"field": "c", "type": "ordinal", "bandPosition": 1, "scale": {"type": "band"}}}},
        {"data": {"name": "legend"}, "mark": {"type": "rule", "style": "grid"}, "encoding": {"y": {"field": "k", "type": "ordinal", "bandPosition": 0, "scale": {"type": "band", "domain": ["c80","c60","c40","c0"], "paddingInner": 0, "paddingOuter": 0.3153, "align": 1}}}},
        {"data": {"name": "legend"}, "transform": [{"filter": "datum.k == 'c0'"}], "mark": {"type": "rule", "style": "grid"}, "encoding": {"y": {"field": "k", "type": "ordinal", "bandPosition": 1}}}
      ]}
    ]}
  ]}
]
}
